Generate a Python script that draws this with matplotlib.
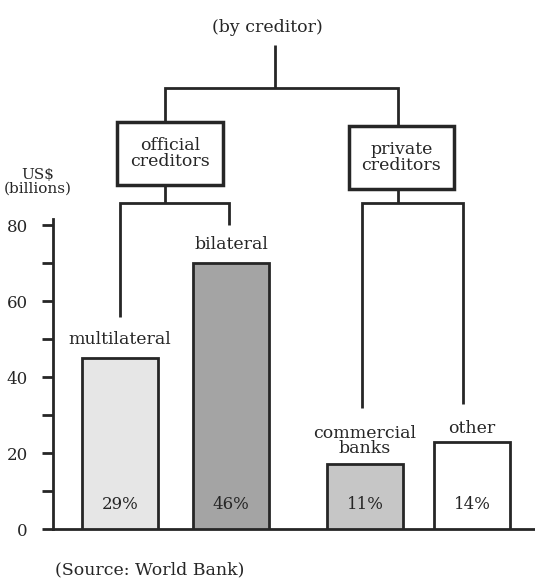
import matplotlib
matplotlib.use("Agg")
import matplotlib.pyplot as plt
from matplotlib.patches import Rectangle

# ---- data ----
categories = ["multilateral", "bilateral", "commercial\nbanks", "other"]
values = [45, 70, 17, 23]
shares = ["29%", "46%", "11%", "14%"]
groups = ["official\ncreditors", "private\ncreditors"]
yticks_major = [0, 20, 40, 60, 80]
yticks_minor = [10, 30, 50, 70]

# ---- style / layout ----
W, H = 535, 578
DPI = 100
FONT = ["DejaVu Serif"]
plt.rcParams["font.family"] = FONT
FS = 12.5
INK = "#262626"
colors = ["#e6e6e6", "#a4a4a4", "#c6c6c6", "#ffffff"]
xpos = [67, 178, 312, 419]     # bar centres (axes x units = pixels from the y axis)
bar_w = 76

fig = plt.figure(figsize=(W / DPI, H / DPI), dpi=DPI)

# main bar axes: x from px 53 to 535, y 0 at px 529 and 80 at px 225
y0_px, y80_px = 529, 225
ytop = 81.5
px_per_unit = (y0_px - y80_px) / 80
ax_h_px = ytop * px_per_unit
ax = fig.add_axes([53 / W, (H - y0_px) / H, (W - 53) / W, ax_h_px / H])
ax.set_xlim(0, W - 53)
ax.set_ylim(0, ytop)

bars = ax.bar(xpos, values, width=bar_w, color=colors, edgecolor=INK, linewidth=2, zorder=3)

for s in ["top", "right"]:
    ax.spines[s].set_visible(False)
for s in ["left", "bottom"]:
    ax.spines[s].set_linewidth(2)
    ax.spines[s].set_color(INK)
ax.set_xticks([])
ax.set_yticks(yticks_major)
ax.set_yticks(yticks_minor, minor=True)
ax.set_yticklabels([str(v) for v in yticks_major])
ax.tick_params(axis="y", which="both", length=8, width=2, color=INK, direction="out",
               labelsize=12, pad=10, labelcolor=INK)

# category labels and shares
label_offsets = [7, 7, 5, 3]
for x, v, name, sh, off in zip(xpos, values, categories, shares, label_offsets):
    ax.annotate(name, (x, v), xytext=(0, off), textcoords="offset points",
                ha="center", va="bottom", fontsize=FS, color=INK, linespacing=0.85)
    ax.text(x, 6.5, sh, ha="center", va="center", fontsize=12, color=INK, zorder=4)

# overlay axes for the tree diagram (pixel coordinates)
ov = fig.add_axes([0, 0, 1, 1], facecolor="none")
ov.set_xlim(0, W)
ov.set_ylim(H, 0)
ov.axis("off")

lw = 2
def line(xs, ys):
    ov.plot(xs, ys, color=INK, lw=lw, solid_capstyle="butt", solid_joinstyle="miter")

ov.text(267, 27, "(by creditor)", ha="center", va="center", fontsize=FS, color=INK)
line([275, 275], [45, 88])
line([165, 165, 398, 398], [122, 88, 88, 126])

# group boxes
ov.add_patch(Rectangle((117, 122), 106, 63, fill=False, edgecolor=INK, lw=2.5))
ov.text(170, 153.5, groups[0], ha="center", va="center", fontsize=FS, color=INK, linespacing=0.95)
ov.add_patch(Rectangle((349, 126), 105, 63, fill=False, edgecolor=INK, lw=2.5))
ov.text(401.5, 157.5, groups[1], ha="center", va="center", fontsize=FS, color=INK, linespacing=0.95)

# brackets down to bars
line([165, 165], [185, 203])
line([120, 120, 229, 229], [317, 203, 203, 225])
line([398, 398], [189, 203])
line([362, 362, 463, 463], [408, 203, 203, 404])

ov.text(38, 182, "US$\n(billions)", ha="center", va="center", fontsize=11, color=INK,
        linespacing=1.0, multialignment="center")
ov.text(150, 570, "(Source: World Bank)", ha="center", va="center", fontsize=FS, color=INK)

fig.savefig("out.png", dpi=DPI)
